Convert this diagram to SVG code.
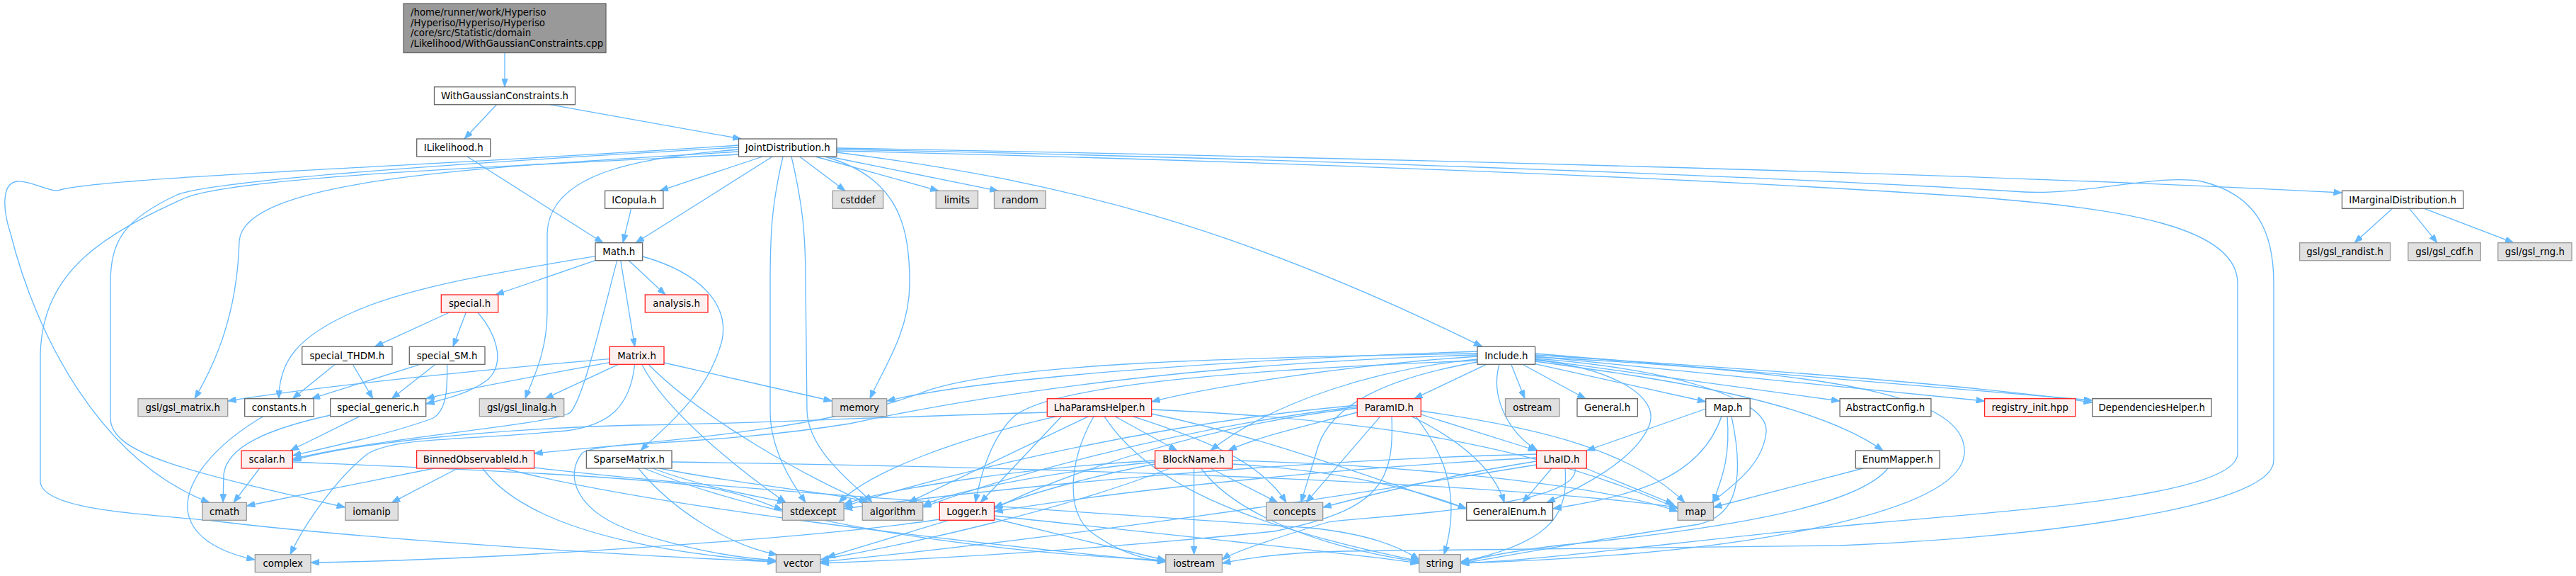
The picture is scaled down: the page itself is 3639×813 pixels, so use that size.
<svg xmlns="http://www.w3.org/2000/svg" width="3639" height="813" viewBox="0 0 3639 813">
<defs>
<marker id="ah" viewBox="0 0 12 9" refX="12" refY="4.5" markerWidth="12" markerHeight="9" markerUnits="userSpaceOnUse" orient="auto"><path d="M0,0 L12,4.5 L0,9 z" fill="#63b8ff" stroke="#63b8ff" stroke-width="0.8"/></marker>
<style>
.n rect{fill:#ffffff;stroke:#666666;stroke-width:1.3}
.s rect{fill:#e0e0e0;stroke:#999999;stroke-width:1.3}
.r rect{fill:#fff0f0;stroke:#ff2020;stroke-width:1.3}
.g rect{fill:#999999;stroke:#666666;stroke-width:1.3}
text{font-family:"DejaVu Sans","Liberation Sans",sans-serif;font-size:13.33px;text-anchor:middle;fill:#000000}
.g text{text-anchor:start}
#edges path{fill:none;stroke:#63b8ff;stroke-width:1.3;marker-end:url(#ah)}
</style>
</defs>
<rect x="0" y="0" width="3639" height="813" fill="#ffffff"/>
<g id="edges">
<path d="M713,74.5 V122.7"/>
<path d="M701.5,147.7 L656,196"/>
<path d="M776.8,147.7 L1047,196"/>
<path d="M660,221 L852,342.7"/>
<path d="M891.6,294.3 L880,342.7"/>
<path d="M1077.3,221 L932,269.3"/>
<path d="M1091.3,221 L898,342.7"/>
<path d="M1129.6,221 L1194,269.3"/>
<path d="M1151.9,221 L1326,269.3"/>
<path d="M1171,221 L1410,269.3"/>
<path d="M1181.9,209 C1900,222 2800,245 3308.5,272"/>
<path d="M1181.9,215 C1500,255 1750,320 2094,489.3"/>
<path d="M1165,221 C1270,250 1285,320 1285,400 C1285,470 1245,525 1229,562.7"/>
<path d="M1106,221 C1090,290 1088,330 1088,400 L1088,580 C1088,640 1125,690 1138,709.3"/>
<path d="M1118,221 C1134,290 1138,330 1138,400 L1140,580 C1142,640 1215,690 1232,709.3"/>
<path d="M1043.5,214 C700,235 345,250 338,340 C335,450 300,520 275,562.7"/>
<path d="M1043.5,211 C900,222 775,245 773,330 L773,440 C773,500 750,540 742,562.7"/>
<path d="M1043.5,205 C600,235 150,250 85,268 C72,273 45,255 25,256 C0,258 5,300 15,330 C50,470 140,650 296,709.3"/>
<path d="M1043.5,208 C650,230 300,255 250,275 C175,310 156,340 156,400 L156,590 C156,640 260,665 487.7,716"/>
<path d="M1043.5,218 C700,235 330,250 260,280 C150,330 60,380 57,500 L57,680 C60,720 200,725 300,735 C500,760 900,785 1096.4,793"/>
<path d="M1181.9,213 C1700,225 2400,250 2800,279 C3000,295 3161,320 3161,400 L3161,640 C3161,700 2850,720 2650,738 C2400,760 2200,790 2063.4,795"/>
<path d="M1181.9,211 C1700,220 2500,248 2860,271 C2950,275 3050,245 3110,256 C3190,275 3212,330 3212,400 L3212,650 C3212,720 2850,760 2600,770 C2300,772 2100,775 1900,778 C1800,780 1750,790 1726.5,795"/>
<path d="M3379.7,294.3 L3326,342.7"/>
<path d="M3403.7,294.3 L3443,342.7"/>
<path d="M3424.6,294.3 L3551,342.7"/>
<path d="M841,367.7 L700,416"/>
<path d="M888.3,367.7 L940,416"/>
<path d="M876.7,367.7 L896.7,489.3"/>
<path d="M841,361.7 C700,385 580,405 500,440 C420,475 394,510 394,562.7"/>
<path d="M871.7,367.7 C850,450 825,560 806,582 C780,600 550,615 413.3,648"/>
<path d="M907.7,362 C990,385 1030,430 1020,480 C1000,560 930,610 905,636"/>
<path d="M634.6,441 L529.3,489.3"/>
<path d="M658.3,441 L640,489.3"/>
<path d="M675,441 C700,470 715,510 690,535 C665,555 630,563 601.7,570"/>
<path d="M473.3,514.3 L413.3,562.7"/>
<path d="M498.3,514.3 L526.7,562.7"/>
<path d="M593.3,514.3 L440,562.7"/>
<path d="M615,514.3 L553.3,562.7"/>
<path d="M631.7,514.3 C632,545 632,578 612,590 C560,610 470,630 413.3,643"/>
<path d="M861.3,506.7 C700,520 450,545 321.7,566"/>
<path d="M861.3,511.7 C760,530 650,550 601.7,562.7"/>
<path d="M873.3,514.3 L770,562.7"/>
<path d="M938,512 L1175.5,566"/>
<path d="M906.7,514.3 C940,580 1040,660 1110,709.3"/>
<path d="M916,514.3 C990,590 1150,680 1225,709.3"/>
<path d="M896.7,514.3 C890,575 860,600 800,608 C650,622 560,617 520,640 C475,675 430,740 410,782.7"/>
<path d="M371.7,587.7 C300,630 262,680 265,720 C270,762 320,782 360.3,790"/>
<path d="M466.7,586 C380,605 320,630 316,670 L315,709.3"/>
<path d="M508.3,587.7 L410,636"/>
<path d="M366.7,661 L330,709.3"/>
<path d="M413.3,652 C600,660 900,672 1000,688 C1050,697 1080,710 1105.4,720"/>
<path d="M613.3,661 L348.3,714"/>
<path d="M646.7,661 L553.3,709.3"/>
<path d="M681.7,661 C740,740 900,778 1096.4,793"/>
<path d="M711.7,661 C900,710 1300,760 1646.8,793"/>
<path d="M754.6,660 C1000,690 1500,720 1850,745 C1950,755 1990,780 2004.7,790"/>
<path d="M949,652 C1500,660 2100,680 2370.2,716"/>
<path d="M901.7,661 C950,720 1030,770 1098,783"/>
<path d="M921.7,661 C1000,690 1070,700 1110,709.3"/>
<path d="M931.7,661 C1050,685 1180,695 1228,709.3"/>
<path d="M910,661 C1100,740 1400,780 1646.8,791"/>
<path d="M2087,496 C1800,505 1400,530 1252.7,566"/>
<path d="M2087,503 C1900,515 1700,548 1626.7,567"/>
<path d="M2087,499 C1700,505 1400,515 1300,555 C1150,610 900,625 754.6,640"/>
<path d="M2087,501 C1700,512 1400,555 1200,598 C1000,630 840,622 822,640 C798,670 810,722 900,752 C980,778 1050,788 1096.4,791"/>
<path d="M2087,507 C1950,520 1800,565 1710,636"/>
<path d="M2087,509 C1800,520 1480,540 1430,590 C1400,620 1385,670 1378,709.3"/>
<path d="M2087,511 C1950,535 1880,575 1862,630 C1850,670 1842,695 1838,709.3"/>
<path d="M2099.7,514.3 L1997.7,562.7"/>
<path d="M2134.8,514.3 L2154,562.7"/>
<path d="M2150.8,514.3 L2240,562.7"/>
<path d="M2168.6,513.7 L2409.7,567"/>
<path d="M2168.6,507 L2599.1,566"/>
<path d="M2168.6,510 C2350,535 2560,565 2660,636"/>
<path d="M2168.6,503 L2803.6,566"/>
<path d="M2168.6,499 L2955.7,565"/>
<path d="M2168.6,501 C2500,522 2800,545 2955.7,568"/>
<path d="M2118,514.3 C2105,560 2130,610 2172,636"/>
<path d="M2168.6,508 C2280,520 2345,560 2330,600 C2310,650 2230,690 2185,709.3"/>
<path d="M2168.6,506 C2350,520 2500,560 2495,610 C2490,660 2440,690 2418,709.3"/>
<path d="M2168.6,504 C2600,525 2780,560 2775,640 C2770,720 2500,765 2300,782 C2200,790 2100,794 2063.4,795"/>
<path d="M2007.3,585 L2170.5,636"/>
<path d="M1994,587.7 C2060,620 2110,660 2125,709.3"/>
<path d="M2007.3,580 C2150,600 2300,630 2380,709.3"/>
<path d="M2000,587.7 C2040,640 2065,700 2040,782.7"/>
<path d="M1950,587.7 L1845,709.3"/>
<path d="M1917.3,582 C1850,600 1780,615 1735,636"/>
<path d="M1917.3,576 C1700,600 1500,670 1404.5,718"/>
<path d="M1966,587.7 C1970,680 1950,720 1800,750 C1500,780 1300,790 1158.9,795"/>
<path d="M1917.3,572 C1600,600 1300,680 1192.1,715"/>
<path d="M1917.3,574 C1650,605 1400,680 1303.7,716"/>
<path d="M2192,661 L2151,709.3"/>
<path d="M2240,661 L2365,712"/>
<path d="M2211,661 C2215,720 2200,765 2063.4,793"/>
<path d="M2170.5,651 C2050,670 1950,695 1868.7,716"/>
<path d="M2170.5,646 C1900,660 1600,690 1404.5,722"/>
<path d="M2225,661 C2235,720 1900,730 1876,737 C1800,760 1740,780 1726.5,790"/>
<path d="M2170.5,656 C1900,700 1500,760 1158.9,793"/>
<path d="M2170.5,641 C1800,650 1400,690 1192.1,718"/>
<path d="M2409.7,577 L2241.3,636"/>
<path d="M2432,587.7 C2400,680 2300,700 2193.5,718"/>
<path d="M2440,587.7 C2445,650 2430,680 2420,709.3"/>
<path d="M2446,587.7 C2470,700 2440,730 2400,740 C2200,770 2100,790 2063.4,795"/>
<path d="M2632,661 L2420.5,716"/>
<path d="M2667,661 C2620,720 2400,750 2200,770 C2120,780 2080,790 2063.4,795"/>
<path d="M1575,587.7 L1663,636"/>
<path d="M1499.5,587.7 L1385,709.3"/>
<path d="M1493,587.7 C1350,620 1230,665 1185,709.3"/>
<path d="M1537.8,587.7 L1283,709.3"/>
<path d="M1545,587.7 C1510,650 1505,720 1540,750 C1580,780 1620,790 1646.8,793"/>
<path d="M1600,587.7 C1700,620 1780,650 1817,709.3"/>
<path d="M1560,587.7 C1620,680 1750,740 2004.7,792"/>
<path d="M1626.7,578 C1900,590 2150,620 2370.2,718"/>
<path d="M1626.7,584 C1800,620 1950,680 2071.7,718"/>
<path d="M1479.3,582 C1200,590 1000,600 900,600 C700,605 500,625 413.3,650"/>
<path d="M1686.7,661 V782.7"/>
<path d="M1710,661 L1805,709.3"/>
<path d="M1696.7,661 C1740,720 1850,770 2004.7,793"/>
<path d="M1631.7,655 C1550,670 1460,695 1404.5,716"/>
<path d="M1631.7,650 C1450,660 1250,690 1192.1,712"/>
<path d="M1631.7,652 C1500,665 1350,690 1303.7,714"/>
<path d="M1653,661 C1500,720 1300,765 1158.9,790"/>
<path d="M1741,655 C1900,665 2000,690 2071.7,718"/>
<path d="M1741,650 C1950,655 2250,680 2370.2,722"/>
<path d="M1340,734.3 L1167.9,786.7"/>
<path d="M1404.5,732 L1646.8,791"/>
<path d="M1404.5,728 C1700,760 1900,780 2004.7,795"/>
<path d="M1327.3,733 C1150,760 700,790 439,794"/>
</g>
<g id="n_root" class="g"><rect x="570" y="5" width="286" height="69.5"/><text x="580" y="21.8">/home/runner/work/Hyperiso</text><text x="580" y="36.5">/Hyperiso/Hyperiso/Hyperiso</text><text x="580" y="51.2">/core/src/Statistic/domain</text><text x="580" y="65.9">/Likelihood/WithGaussianConstraints.cpp</text></g>
<g id="n_wgc" class="n"><rect x="613.5" y="122.7" width="199" height="25"/><text x="713" y="140">WithGaussianConstraints.h</text></g>
<g id="n_ilikelihood" class="n"><rect x="588.7" y="196" width="104" height="25"/><text x="640.7" y="213.3">ILikelihood.h</text></g>
<g id="n_joint" class="n"><rect x="1043.5" y="196" width="138.4" height="25"/><text x="1112.7" y="213.3">JointDistribution.h</text></g>
<g id="n_icopula" class="n"><rect x="854.6" y="269.3" width="82.3" height="25"/><text x="895.7" y="286.6">ICopula.h</text></g>
<g id="n_cstddef" class="s"><rect x="1176.1" y="269.3" width="71.5" height="25"/><text x="1211.8" y="286.6">cstddef</text></g>
<g id="n_limits" class="s"><rect x="1322.2" y="269.3" width="59.3" height="25"/><text x="1351.8" y="286.6">limits</text></g>
<g id="n_random" class="s"><rect x="1404.5" y="269.3" width="72.7" height="25"/><text x="1440.8" y="286.6">random</text></g>
<g id="n_imarginal" class="n"><rect x="3308.5" y="269.3" width="171.2" height="25"/><text x="3394.1" y="286.6">IMarginalDistribution.h</text></g>
<g id="n_math" class="n"><rect x="841" y="342.7" width="66.7" height="25"/><text x="874.3" y="360">Math.h</text></g>
<g id="n_randist" class="s"><rect x="3248.6" y="342.7" width="128" height="25"/><text x="3312.6" y="360">gsl/gsl_randist.h</text></g>
<g id="n_cdf" class="s"><rect x="3401.9" y="342.7" width="102.4" height="25"/><text x="3453.1" y="360">gsl/gsl_cdf.h</text></g>
<g id="n_rng" class="s"><rect x="3528.8" y="342.7" width="104.2" height="25"/><text x="3580.9" y="360">gsl/gsl_rng.h</text></g>
<g id="n_special" class="r"><rect x="623.3" y="416" width="80.4" height="25"/><text x="663.5" y="433.3">special.h</text></g>
<g id="n_analysis" class="r"><rect x="911.3" y="416" width="88.7" height="25"/><text x="955.6" y="433.3">analysis.h</text></g>
<g id="n_thdm" class="n"><rect x="426.7" y="489.3" width="127.3" height="25"/><text x="490.3" y="506.6">special_THDM.h</text></g>
<g id="n_sm" class="n"><rect x="578.3" y="489.3" width="106.7" height="25"/><text x="631.6" y="506.6">special_SM.h</text></g>
<g id="n_matrix" class="r"><rect x="861.3" y="489.3" width="76.7" height="25"/><text x="899.6" y="506.6">Matrix.h</text></g>
<g id="n_include" class="n"><rect x="2087" y="489.3" width="81.6" height="25"/><text x="2127.8" y="506.6">Include.h</text></g>
<g id="n_gslmatrix" class="s"><rect x="195" y="562.7" width="126.7" height="25"/><text x="258.3" y="580">gsl/gsl_matrix.h</text></g>
<g id="n_constants" class="n"><rect x="345.7" y="562.7" width="97.6" height="25"/><text x="394.5" y="580">constants.h</text></g>
<g id="n_generic" class="n"><rect x="466.7" y="562.7" width="135" height="25"/><text x="534.2" y="580">special_generic.h</text></g>
<g id="n_linalg" class="s"><rect x="677.3" y="562.7" width="119.4" height="25"/><text x="737" y="580">gsl/gsl_linalg.h</text></g>
<g id="n_memory" class="s"><rect x="1175.5" y="562.7" width="77.2" height="25"/><text x="1214.1" y="580">memory</text></g>
<g id="n_lhaparams" class="r"><rect x="1479.3" y="562.7" width="147.4" height="25"/><text x="1553" y="580">LhaParamsHelper.h</text></g>
<g id="n_paramid" class="r"><rect x="1917.3" y="562.7" width="90" height="25"/><text x="1962.3" y="580">ParamID.h</text></g>
<g id="n_ostream" class="s"><rect x="2126.5" y="562.7" width="76.5" height="25"/><text x="2164.7" y="580">ostream</text></g>
<g id="n_general" class="n"><rect x="2228" y="562.7" width="85.4" height="25"/><text x="2270.7" y="580">General.h</text></g>
<g id="n_maph" class="n"><rect x="2409.7" y="562.7" width="62.5" height="25"/><text x="2441" y="580">Map.h</text></g>
<g id="n_abstract" class="n"><rect x="2599.1" y="562.7" width="128.8" height="25"/><text x="2663.5" y="580">AbstractConfig.h</text></g>
<g id="n_registry" class="r"><rect x="2803.6" y="562.7" width="128.2" height="25"/><text x="2867.7" y="580">registry_init.hpp</text></g>
<g id="n_deps" class="n"><rect x="2955.7" y="562.7" width="168.3" height="25"/><text x="3039.8" y="580">DependenciesHelper.h</text></g>
<g id="n_scalar" class="r"><rect x="341" y="636" width="72.3" height="25"/><text x="377.1" y="653.3">scalar.h</text></g>
<g id="n_binned" class="r"><rect x="588.6" y="636" width="166" height="25"/><text x="671.6" y="653.3">BinnedObservableId.h</text></g>
<g id="n_sparse" class="n"><rect x="828.4" y="636" width="120.6" height="25"/><text x="888.7" y="653.3">SparseMatrix.h</text></g>
<g id="n_blockname" class="r"><rect x="1631.7" y="636" width="109.3" height="25"/><text x="1686.3" y="653.3">BlockName.h</text></g>
<g id="n_lhaid" class="r"><rect x="2170.5" y="636" width="70.8" height="25"/><text x="2205.9" y="653.3">LhaID.h</text></g>
<g id="n_enummapper" class="n"><rect x="2621.4" y="636" width="118.7" height="25"/><text x="2680.8" y="653.3">EnumMapper.h</text></g>
<g id="n_cmath" class="s"><rect x="285.7" y="709.3" width="62.6" height="25"/><text x="317" y="726.6">cmath</text></g>
<g id="n_iomanip" class="s"><rect x="487.7" y="709.3" width="74.6" height="25"/><text x="525" y="726.6">iomanip</text></g>
<g id="n_stdexcept" class="s"><rect x="1105.4" y="709.3" width="86.7" height="25"/><text x="1148.7" y="726.6">stdexcept</text></g>
<g id="n_algorithm" class="s"><rect x="1218.2" y="709.3" width="85.5" height="25"/><text x="1261" y="726.6">algorithm</text></g>
<g id="n_logger" class="r"><rect x="1327.3" y="709.3" width="77.2" height="25"/><text x="1365.9" y="726.6">Logger.h</text></g>
<g id="n_concepts" class="s"><rect x="1789" y="709.3" width="79.7" height="25"/><text x="1828.9" y="726.6">concepts</text></g>
<g id="n_generalenum" class="n"><rect x="2071.7" y="709.3" width="121.8" height="25"/><text x="2132.6" y="726.6">GeneralEnum.h</text></g>
<g id="n_map" class="s"><rect x="2370.2" y="709.3" width="50.3" height="25"/><text x="2395.3" y="726.6">map</text></g>
<g id="n_complex" class="s"><rect x="360.3" y="782.7" width="78.7" height="25"/><text x="399.7" y="800">complex</text></g>
<g id="n_vector" class="s"><rect x="1096.4" y="782.7" width="62.5" height="25"/><text x="1127.7" y="800">vector</text></g>
<g id="n_iostream" class="s"><rect x="1646.8" y="782.7" width="79.7" height="25"/><text x="1686.7" y="800">iostream</text></g>
<g id="n_string" class="s"><rect x="2004.7" y="782.7" width="58.7" height="25"/><text x="2034" y="800">string</text></g>
</svg>
